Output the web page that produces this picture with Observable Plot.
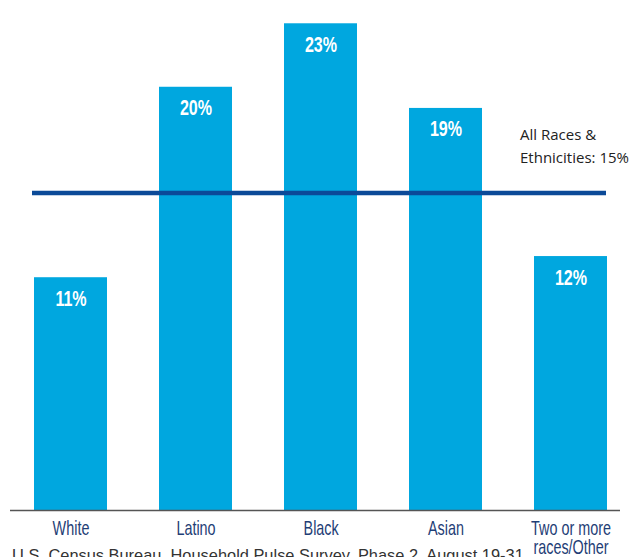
<!DOCTYPE html>
<html>
<head>
<meta charset="utf-8">
<script src="https://cdn.jsdelivr.net/npm/d3@7"></script>
<script src="https://cdn.jsdelivr.net/npm/@observablehq/plot@0.6"></script>
<style>
  html, body { margin: 0; padding: 0; background: #fff; overflow: hidden; }
  #chart { position: relative; width: 631px; height: 557px; }
  #caption {
    position: absolute; left: 12px; top: 547px; white-space: nowrap;
    font-family: "Liberation Sans", Arial, sans-serif; font-size: 16.4px; line-height: 17px; color: #333;
  }
</style>
</head>
<body>
<div id="chart"></div>
<script>
const categories = ["White", "Latino", "Black", "Asian", "Two or more\nraces/Other"];
const values = [11, 20, 23, 19, 12];
const average = 15;
const averageLabel = "All Races &\nEthnicities: " + average + "%";
const source = "U.S. Census Bureau, Household Pulse Survey, Phase 2, August 19-31";

const data = categories.map((c, i) => ({category: c, value: values[i]}));

const plot = Plot.plot({
  width: 631,
  height: 557,
  marginTop: 0,
  marginBottom: 47,
  marginLeft: 32,
  marginRight: 25,
  x: {domain: categories, range: [6, 634], paddingInner: 0.42, paddingOuter: 0.21, label: null, axis: null},
  y: {domain: [0, 24.1], axis: null},
  style: {background: "#fff"},
  marks: [
    Plot.barY(data, {x: "category", y: "value", fill: "#00a7df"}),
    Plot.ruleY([0], {stroke: "#555", strokeWidth: 1.5, insetLeft: -22, insetRight: -14}),
    Plot.text(data, {
      x: "category", y: "value", text: d => d.value + "%",
      dy: 21, fill: "#fff", fontSize: 22, fontWeight: "bold",
      fontFamily: "'Liberation Sans', Arial, sans-serif"
    }),
    Plot.ruleY([average], {stroke: "#0b4a98", strokeWidth: 4.5}),
    Plot.text([average], {
      x: () => categories[4], y: d => d, text: () => averageLabel,
      dx: -51, dy: -30, textAnchor: "start", lineAnchor: "bottom", lineHeight: 1.55,
      fontSize: 15, fill: "#222", fontFamily: "'Open Sans', sans-serif"
    }),
    Plot.axisX({
      tickSize: 0, tickPadding: 11, fontSize: 20, lineAnchor: "top", lineHeight: 0.95,
      fill: "#1f3e76", label: null,
      fontFamily: "'Liberation Sans', Arial, sans-serif"
    })
  ]
});
document.getElementById("chart").appendChild(plot);

// Condense the narrow-font texts horizontally around their own centres.
const catSet = new Set(categories.map(c => c.replace(/\n/g, "")));
plot.querySelectorAll("text").forEach(t => {
  const s = t.textContent;
  let k = null;
  if (/^\d+%$/.test(s)) k = 0.73;
  else if (catSet.has(s)) k = 0.72;
  if (k == null) return;
  const b = t.getBBox();
  const cx = b.x + b.width / 2;
  const prev = t.getAttribute("transform") || "";
  t.setAttribute("transform", `${prev} translate(${cx},0) scale(${k},1) translate(${-cx},0)`);
});

const cap = document.createElement("div");
cap.id = "caption";
cap.textContent = source;
document.getElementById("chart").appendChild(cap);
</script>
</body>
</html>
